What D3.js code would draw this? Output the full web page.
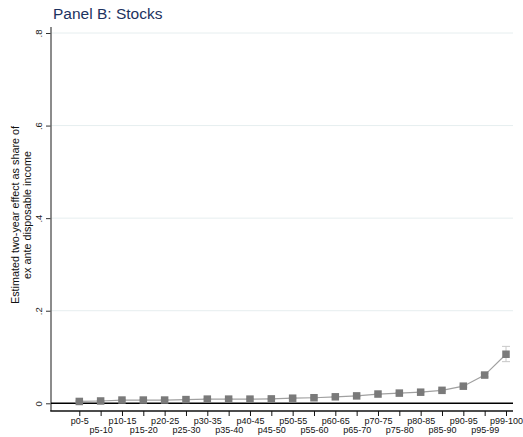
<!DOCTYPE html>
<html>
<head>
<meta charset="utf-8">
<script src="https://cdn.jsdelivr.net/npm/d3@7"></script>
<style>
  html, body { margin: 0; padding: 0; background: #fff; }
  svg { display: block; font-family: "Liberation Sans", Arial, sans-serif; }
</style>
</head>
<body>
<svg id="chart" width="523" height="437"></svg>
<script>
// Income groups (percentile bins)
const groups = ["p0-5","p5-10","p10-15","p15-20","p20-25","p25-30","p30-35","p35-40",
  "p40-45","p45-50","p50-55","p55-60","p60-65","p65-70","p70-75","p75-80",
  "p80-85","p85-90","p90-95","p95-99","p99-100"];
// Estimated two-year effect (share of ex ante disposable income)
const estimate = [0.004,0.005,0.007,0.007,0.007,0.008,0.009,0.009,
  0.009,0.0095,0.011,0.012,0.014,0.016,0.020,0.022,
  0.024,0.028,0.037,0.061,0.106];
// 95% confidence interval bounds
const ciLow = [0.003,0.004,0.006,0.006,0.006,0.007,0.008,0.008,
  0.008,0.0085,0.010,0.011,0.013,0.015,0.019,0.021,
  0.023,0.026,0.035,0.057,0.090];
const ciHigh = [0.005,0.006,0.008,0.008,0.008,0.009,0.010,0.010,
  0.010,0.0105,0.012,0.013,0.015,0.017,0.021,0.023,
  0.025,0.030,0.039,0.065,0.123];
const yTicks = [0, 0.2, 0.4, 0.6, 0.8];
const yTickLabels = ["0", ".2", ".4", ".6", ".8"];

const rows = groups.map((g, i) => ({ g, v: estimate[i], lo: ciLow[i], hi: ciHigh[i] }));

const svg = d3.select("#chart");
const left = 51, right = 513, axisY = 411;

const x = d3.scalePoint().domain(groups).range([79.3, 506]);
const y = d3.scaleLinear().domain([0, 0.8]).range([403.3, 33]);

// Title
svg.append("text").attr("x", 53).attr("y", 19)
  .attr("font-size", 15.5).attr("fill", "#1c3260").text("Panel B: Stocks");

// Gridlines
svg.append("g").selectAll("line").data(yTicks.filter(d => d > 0)).join("line")
  .attr("x1", left).attr("x2", right)
  .attr("y1", d => y(d)).attr("y2", d => y(d))
  .attr("stroke", "#e6eeef").attr("stroke-width", 1);

// Y axis
const yAxis = svg.append("g").attr("transform", `translate(${left},0)`)
  .call(d3.axisLeft(y).tickValues(yTicks).tickFormat((d, i) => yTickLabels[i]).tickSize(5).tickSizeOuter(0));
yAxis.select(".domain").remove();
yAxis.selectAll(".tick line").attr("stroke", "#333");
yAxis.selectAll(".tick text").attr("font-size", 9.5).attr("fill", "#222")
  .attr("text-anchor", "middle").attr("transform", "rotate(-90)")
  .attr("x", 0).attr("y", -12).attr("dy", "0.32em");
svg.append("line").attr("x1", left).attr("x2", left).attr("y1", 27).attr("y2", axisY)
  .attr("stroke", "#666").attr("stroke-width", 1.5);

// Y axis title
const yt = svg.append("text").attr("transform", "translate(19,215) rotate(-90)")
  .attr("text-anchor", "middle").attr("font-size", 10.8).attr("fill", "#111");
yt.append("tspan").attr("x", 0).attr("dy", 0).text("Estimated two-year effect as share of");
yt.append("tspan").attr("x", 0).attr("dy", 11.5).text("ex ante disposable income");

// X axis
const xAxis = svg.append("g").attr("transform", `translate(0,${axisY})`)
  .call(d3.axisBottom(x).tickSize(5).tickSizeOuter(0));
xAxis.select(".domain").remove();
xAxis.selectAll(".tick line").attr("stroke", "#111");
xAxis.selectAll(".tick text").attr("font-size", 9).attr("fill", "#111")
  .attr("y", (d, i) => i % 2 === 0 ? 7 : 16).attr("dy", "0.71em");
svg.append("line").attr("x1", left - 0.75).attr("x2", right).attr("y1", axisY).attr("y2", axisY)
  .attr("stroke", "#111").attr("stroke-width", 1.3);

// Zero reference line
svg.append("line").attr("x1", left).attr("x2", right).attr("y1", y(0)).attr("y2", y(0))
  .attr("stroke", "#000").attr("stroke-width", 1.6);

// Confidence intervals
const ci = svg.append("g").attr("stroke", "#c8c8c8").attr("stroke-width", 1);
ci.selectAll("line.v").data(rows).join("line").attr("class", "v")
  .attr("x1", d => x(d.g)).attr("x2", d => x(d.g))
  .attr("y1", d => y(d.lo)).attr("y2", d => y(d.hi));
ci.selectAll("line.lo").data(rows).join("line").attr("class", "lo")
  .attr("x1", d => x(d.g) - 4).attr("x2", d => x(d.g) + 4)
  .attr("y1", d => y(d.lo)).attr("y2", d => y(d.lo));
ci.selectAll("line.hi").data(rows).join("line").attr("class", "hi")
  .attr("x1", d => x(d.g) - 4).attr("x2", d => x(d.g) + 4)
  .attr("y1", d => y(d.hi)).attr("y2", d => y(d.hi));

// Connecting line
svg.append("path").datum(rows)
  .attr("d", d3.line().x(d => x(d.g)).y(d => y(d.v)))
  .attr("fill", "none").attr("stroke", "#a0a0a0").attr("stroke-width", 1.2);

// Markers
const s = 7.5;
svg.append("g").selectAll("rect").data(rows).join("rect")
  .attr("x", d => x(d.g) - s / 2).attr("y", d => y(d.v) - s / 2)
  .attr("width", s).attr("height", s).attr("fill", "#7a7a7a");
</script>
</body>
</html>
